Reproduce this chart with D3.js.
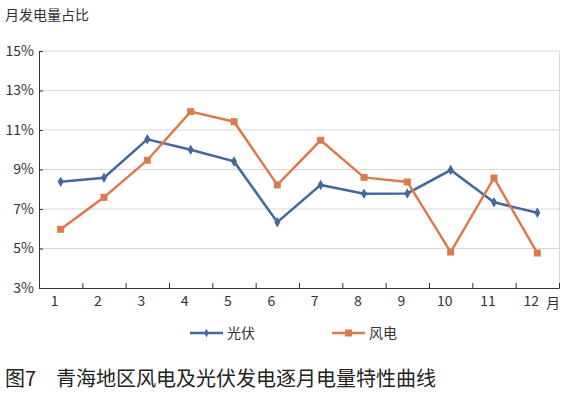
<!DOCTYPE html>
<html><head><meta charset="utf-8">
<script src="https://cdn.jsdelivr.net/npm/d3@7"></script>
<style>body{margin:0;background:#fff;} text{font-family:"Noto Sans CJK SC","Noto Sans",sans-serif;}</style>
</head><body><svg id="c" width="566" height="393"></svg>
<script>
const months = ["1","2","3","4","5","6","7","8","9","10","11","12"];
const solar = [8.38,8.58,10.53,10.0,9.41,6.33,8.22,7.77,7.79,8.97,7.34,6.81];
const wind = [5.97,7.59,9.47,11.93,11.42,8.22,10.48,8.6,8.37,4.82,8.57,4.77];
const yTicks = [3,5,7,9,11,13,15];
const seriesNames = ["光伏","风电"];
const colors = ["#44689e","#dc7a4c"];

const svg = d3.select("#c");
const L=39, R=559, T=51, B=288;
const x = d3.scaleBand().domain(months).range([L,R]).padding(0);
const y = d3.scaleLinear().domain([3,15]).range([B,T]);

svg.append("text").attr("x",5).attr("y",20).attr("font-size",14).attr("fill","#333").text("月发电量占比");

// grid
svg.append("g").selectAll("line").data(yTicks.slice(1)).join("line")
 .attr("x1",L).attr("x2",R).attr("y1",d=>y(d)).attr("y2",d=>y(d))
 .attr("stroke","#d9d9d9").attr("stroke-width",1);
svg.append("line").attr("x1",R+0.5).attr("x2",R+0.5).attr("y1",T).attr("y2",B).attr("stroke","#d9d9d9");

// y axis
const ya = svg.append("g").attr("transform",`translate(${L},0)`)
 .call(d3.axisLeft(y).tickValues(yTicks).tickFormat(d=>d+"%").tickSizeInner(-4).tickSizeOuter(0).tickPadding(5));
ya.select(".domain").attr("stroke","#333");
ya.selectAll(".tick line").attr("stroke","#333");
ya.selectAll("text").attr("font-size",14).attr("fill","#333").style("font-family","'Noto Sans CJK SC',sans-serif");

// x axis
const xa = svg.append("g").attr("transform",`translate(0,${B})`)
 .call(d3.axisBottom(x).tickSize(0).tickPadding(10).tickFormat(d=>d));
xa.select(".domain").attr("stroke","#333");
xa.selectAll("text").attr("font-size",14).attr("fill","#333").attr("dx",-6).attr("dy","0.6em").style("font-family","'Noto Sans CJK SC',sans-serif");
svg.append("g").selectAll("line").data(months).join("line")
 .attr("x1",d=>x(d)+x.bandwidth()+0.5).attr("x2",d=>x(d)+x.bandwidth()+0.5)
 .attr("y1",B).attr("y2",B-5).attr("stroke","#333");
svg.append("text").attr("x",546).attr("y",B+20).attr("font-size",14).attr("fill","#333").text("月");

const line = d3.line().x((d,i)=>x(months[i])+x.bandwidth()/2).y(d=>y(d));
[solar,wind].forEach((s,k)=>{
  svg.append("path").datum(s).attr("d",line).attr("fill","none").attr("stroke",colors[k]).attr("stroke-width",2.5);
  const g = svg.append("g");
  if(k===0){
    g.selectAll("path").data(s).join("path")
     .attr("d",d3.symbol(d3.symbolDiamond,32))
     .attr("transform",(d,i)=>`translate(${x(months[i])+x.bandwidth()/2},${y(d)})`)
     .attr("fill",colors[k]);
  } else {
    g.selectAll("rect").data(s).join("rect")
     .attr("x",(d,i)=>x(months[i])+x.bandwidth()/2-3.5).attr("y",d=>y(d)-3.5)
     .attr("width",7).attr("height",7).attr("fill",colors[k]);
  }
});

// legend
const legX=[190,332];
seriesNames.forEach((n,k)=>{
  const g = svg.append("g").attr("transform",`translate(${legX[k]},333)`);
  g.append("line").attr("x1",0).attr("x2",33).attr("stroke",colors[k]).attr("stroke-width",2.5);
  if(k===0) g.append("path").attr("d",d3.symbol(d3.symbolDiamond,20)).attr("transform","translate(16.5,0)").attr("fill",colors[k]);
  else g.append("rect").attr("x",13).attr("y",-3.5).attr("width",7).attr("height",7).attr("fill",colors[k]);
  g.append("text").attr("x",37).attr("y",5).attr("font-size",14).attr("fill","#333").text(n);
});

svg.append("text").attr("x",5).attr("y",386).attr("font-size",20).attr("fill","#222")
 .attr("xml:space","preserve").text("图7\u3000青海地区风电及光伏发电逐月电量特性曲线");
</script></body></html>
